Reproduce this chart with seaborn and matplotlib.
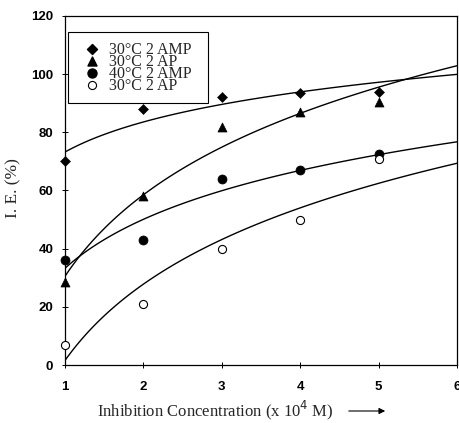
import numpy as np
import pandas as pd
import seaborn as sns
import matplotlib
matplotlib.use("Agg")
import matplotlib.pyplot as plt

# Inhibitor concentration (x 10^4 M)
concentration = [1, 2, 3, 4, 5]

# Inhibition efficiency (%) for each system
ie_30_amp = [70, 88, 92, 93.5, 94]
ie_30_ap_a = [28.5, 58, 82, 87, 90.5]
ie_40_amp = [36, 43, 64, 67, 72.5]
ie_30_ap_b = [7, 21, 40, 50, 71]

labels = ["30\u00b0C 2 AMP", "30\u00b0C 2 AP", "40\u00b0C 2 AMP", "30\u00b0C 2 AP"]
series = [ie_30_amp, ie_30_ap_a, ie_40_amp, ie_30_ap_b]

x_ticks = [1, 2, 3, 4, 5, 6]
y_ticks = [0, 20, 40, 60, 80, 100, 120]

sns.set_style("ticks")
plt.rcParams["font.family"] = ["Liberation Sans", "DejaVu Sans"]

fig, ax = plt.subplots(figsize=(4.59, 4.23), dpi=100)
fig.subplots_adjust(left=65 / 459, right=457 / 459, top=1 - 16 / 423, bottom=1 - 365 / 423)

ax.set_xlim(1, 6)
ax.set_ylim(0, 120)

marker_styles = [
    dict(marker="D", s=26, color="black", edgecolor="black"),
    dict(marker="^", s=42, color="black", edgecolor="black"),
    dict(marker="o", s=42, color="black", edgecolor="black"),
    dict(marker="o", s=34, facecolor="white", edgecolor="black", linewidth=0.8),
]

frames = []
for lab, vals in zip(labels, series):
    frames.append(pd.DataFrame({"conc": concentration, "ie": vals, "system": lab}))

# logarithmic trend lines across the full axis range
for vals in series:
    df = pd.DataFrame({"conc": concentration, "ie": vals})
    sns.regplot(data=df, x="conc", y="ie", logx=True, ci=None, truncate=False,
                scatter=False, ax=ax, line_kws=dict(color="black", linewidth=1.0))

handles = []
for df, st in zip(frames, marker_styles):
    sns.scatterplot(data=df, x="conc", y="ie", ax=ax, zorder=5, clip_on=False,
                    legend=False, **st)
    h = ax.scatter([], [], **st)
    handles.append(h)

ax.set_xlim(1, 6)
ax.set_ylim(0, 120)
ax.set_xticks(x_ticks)
ax.set_yticks(y_ticks)
for sp in ax.spines.values():
    sp.set_visible(True)
    sp.set_color("black")
    sp.set_linewidth(0.9)
ax.tick_params(direction="inout", length=5, width=0.7, colors="black", labelsize=9.5)
ax.tick_params(axis="x", pad=9)
ax.tick_params(axis="y", pad=6)
for t in ax.get_xticklabels() + ax.get_yticklabels():
    t.set_fontweight("bold")

ax.set_xlabel("")
ax.set_ylabel("")
fig.text(13 / 459, 1 - 188 / 423, "I. E. (%)", rotation=90, ha="center", va="center",
         family="Liberation Serif", fontsize=12.5)
fig.text(215 / 459, 1 - 410 / 423, "Inhibition Concentration (x 10$^{4}$ M)", ha="center",
         va="center", family="Liberation Serif", fontsize=12)
ax.annotate("", xy=(388 / 459, 1 - 411 / 423), xytext=(346 / 459, 1 - 411 / 423),
            xycoords="figure fraction", textcoords="figure fraction",
            arrowprops=dict(arrowstyle="-|>", color="black", lw=0.8, mutation_scale=9))

leg = ax.legend(handles, [lab + "  " for lab in labels], loc="upper left",
                bbox_to_anchor=(3 / 392, 1 - 16 / 349),
                frameon=True, fancybox=False, edgecolor="black", framealpha=1,
                prop=dict(family="Liberation Serif", size=11.5), labelspacing=-0.25,
                handletextpad=0.15, handlelength=1.8, borderpad=0.6, borderaxespad=0)
leg.get_frame().set_linewidth(0.8)

fig.savefig("out.png", dpi=100)
